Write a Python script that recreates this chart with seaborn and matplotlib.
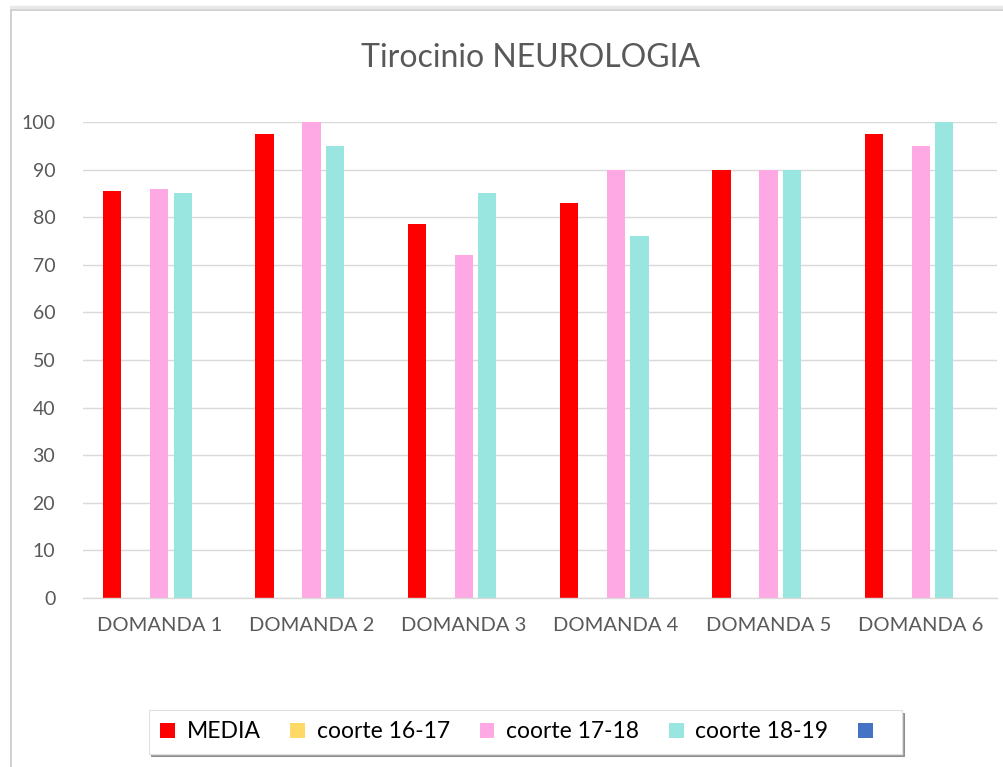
import matplotlib
matplotlib.use("Agg")
import matplotlib.pyplot as plt
from matplotlib.patches import Patch
from matplotlib.lines import Line2D
import seaborn as sns
import pandas as pd
import numpy as np

categories = ["DOMANDA 1", "DOMANDA 2", "DOMANDA 3", "DOMANDA 4", "DOMANDA 5", "DOMANDA 6"]
series_names = ["MEDIA", "coorte 16-17", "coorte 17-18", "coorte 18-19", " "]
media = [85.5, 97.5, 78.5, 83, 90, 97.5]
coorte_16_17 = [0, 0, 0, 0, 0, 0]
coorte_17_18 = [86, 100, 72, 90, 90, 95]
coorte_18_19 = [85, 95, 85, 76, 90, 100]
serie_blu = [0, 0, 0, 0, 0, 0]
yticks = [0, 10, 20, 30, 40, 50, 60, 70, 80, 90, 100]
title = "Tirocinio NEUROLOGIA"

colors = ["#FF0000", "#FFD966", "#FFA9E4", "#99E5E0", "#4472C4"]

rows = []
for name, vals in zip(series_names, [media, coorte_16_17, coorte_17_18, coorte_18_19, serie_blu]):
    for c, v in zip(categories, vals):
        rows.append({"domanda": c, "serie": name, "valore": v})
df = pd.DataFrame(rows)

sns.set_theme(style="white")
plt.rcParams["font.family"] = ["Lato", "DejaVu Sans"]

fig = plt.figure(figsize=(10.04, 7.67), dpi=100)
ax = fig.add_axes([0.0827, 0.2203, 0.9103, 0.6207])

sns.barplot(data=df, x="domanda", y="valore", hue="serie", order=categories,
            hue_order=series_names, palette=colors, width=0.77, gap=0.22,
            saturation=1, linewidth=0, errorbar=None, legend=False, ax=ax)

ax.set_xlim(-0.5, 5.5)
ax.set_ylim(0, 100)
ax.set_yticks(yticks)
ax.set_yticklabels([str(t) for t in yticks])
ax.set_xlabel("")
ax.set_ylabel("")
ax.grid(axis="y", color="#D9D9D9", linewidth=1)
ax.set_axisbelow(True)
for s in ["left", "right", "top"]:
    ax.spines[s].set_visible(False)
ax.spines["bottom"].set_color("#D9D9D9")
ax.spines["bottom"].set_linewidth(1)
ax.tick_params(axis="y", length=0, colors="#595959", labelsize=14, pad=20)
ax.tick_params(axis="x", length=0, colors="#595959", labelsize=14.5, pad=14)

fig.text(0.528, 0.925, title, ha="center", va="center", fontsize=23, color="#595959")

handles = [Patch(facecolor=c, edgecolor="none") for c in colors]
leg = fig.legend(handles, series_names, loc="center", bbox_to_anchor=(0.523, 0.046),
                 ncol=5, frameon=True, fontsize=16.5, handlelength=0.65, handleheight=0.65,
                 columnspacing=1.3, handletextpad=0.5, shadow=True, fancybox=False,
                 borderpad=0.5)
leg.get_frame().set_edgecolor("#E0E0E0")
leg.get_frame().set_linewidth(0.8)
for t in leg.get_texts():
    t.set_color("#000000")

# outer chart frame
fig.add_artist(Line2D([0.0105, 0.0105], [0.0, 0.987], color="#C8C8C8", linewidth=1.2, transform=fig.transFigure))
fig.add_artist(Line2D([0.0105, 1.0], [0.987, 0.987], color="#C8C8C8", linewidth=1.2, transform=fig.transFigure))
fig.add_artist(Line2D([0.0105, 1.0], [0.991, 0.991], color="#E8E8E8", linewidth=2.5, transform=fig.transFigure))

fig.savefig("out.png", dpi=100)
